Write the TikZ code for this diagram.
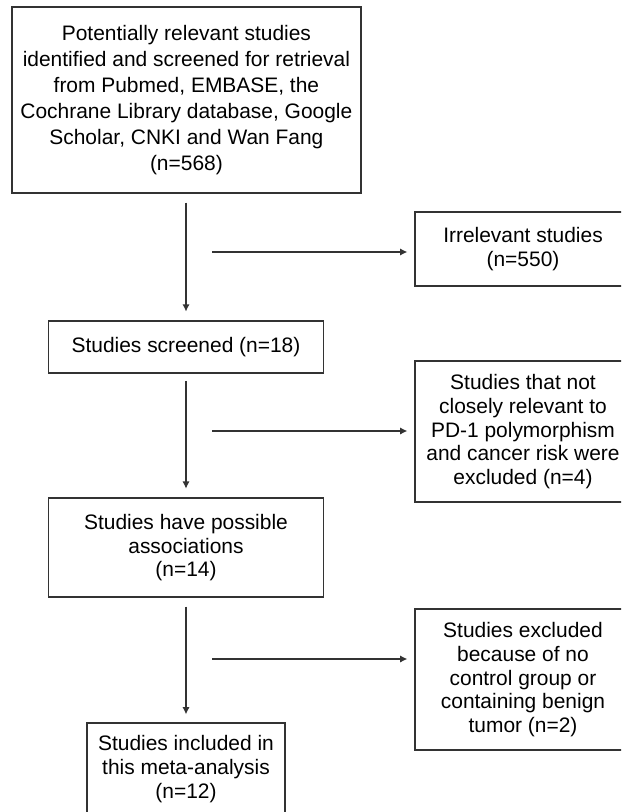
\documentclass[tikz,border=0pt]{standalone}
\usepackage{fontspec}
\setmainfont{Liberation Sans}
\usetikzlibrary{arrows.meta}

\begin{document}
\begin{tikzpicture}[
    >={Latex[length=1.8mm,width=1.8mm]},
    font=\fontsize{14.9pt}{16.9pt}\selectfont,
    flow/.style={draw=black!80, fill=white, rectangle, align=center, line width=0.9pt, inner sep=0pt},
    side/.style={flow, minimum width=5.4cm, minimum height=3.525cm},
    link/.style={->, draw=black!80, line width=0.9pt}
]

    \clip (0, 0) rectangle (15.525, -20.3);

    \node [flow, minimum width=8.725cm, minimum height=4.65cm, font=\fontsize{14.9pt}{18.6pt}\selectfont] (S1) at (4.66, -2.5)
        {Potentially relevant studies\\identified and screened for retrieval\\from Pubmed, EMBASE, the\\Cochrane Library database, Google\\Scholar, CNKI and Wan Fang\\(n=568)};
    \node [side, minimum height=1.85cm] (X1) at (13.075, -6.225) {Irrelevant studies\\(n=550)};
    \node [flow, minimum width=6.875cm, minimum height=1.3cm] (S2) at (4.65, -8.675) {Studies screened (n=18)};
    \node [side] (X2) at (13.075, -10.79) {Studies that not\\closely relevant to\\PD-1 polymorphism\\and cancer risk were\\excluded (n=4)};
    \node [flow, minimum width=6.875cm, minimum height=2.475cm] (S3) at (4.65, -13.69) {Studies have possible\\associations\\(n=14)};
    \node [side] (X3) at (13.075, -16.99) {Studies excluded\\because of no\\control group or\\containing benign\\tumor (n=2)};
    \node [flow, minimum width=4.95cm, minimum height=2.3cm] (S4) at (4.65, -19.225) {Studies included in\\this meta-analysis\\(n=12)};

    \coordinate (h1) at (5.3, -6.3);
    \coordinate (h2) at (5.3, -10.775);
    \coordinate (h3) at (5.3, -16.475);

    \draw [link, shorten <=0.225cm, shorten >=0.22cm] (S1.south -| S2.north) -- (S2.north);
    \draw [link, shorten <=0.18cm, shorten >=0.22cm] (S2) -- (S3);
    \draw [link, shorten <=0.225cm, shorten >=0.2cm] (S3) -- (S4);
    \draw [link, shorten >=0.175cm] (h1) -- (X1.west |- h1);
    \draw [link, shorten >=0.175cm] (h2) -- (X2.west |- h2);
    \draw [link, shorten >=0.175cm] (h3) -- (X3.west |- h3);

\end{tikzpicture}
\end{document}
